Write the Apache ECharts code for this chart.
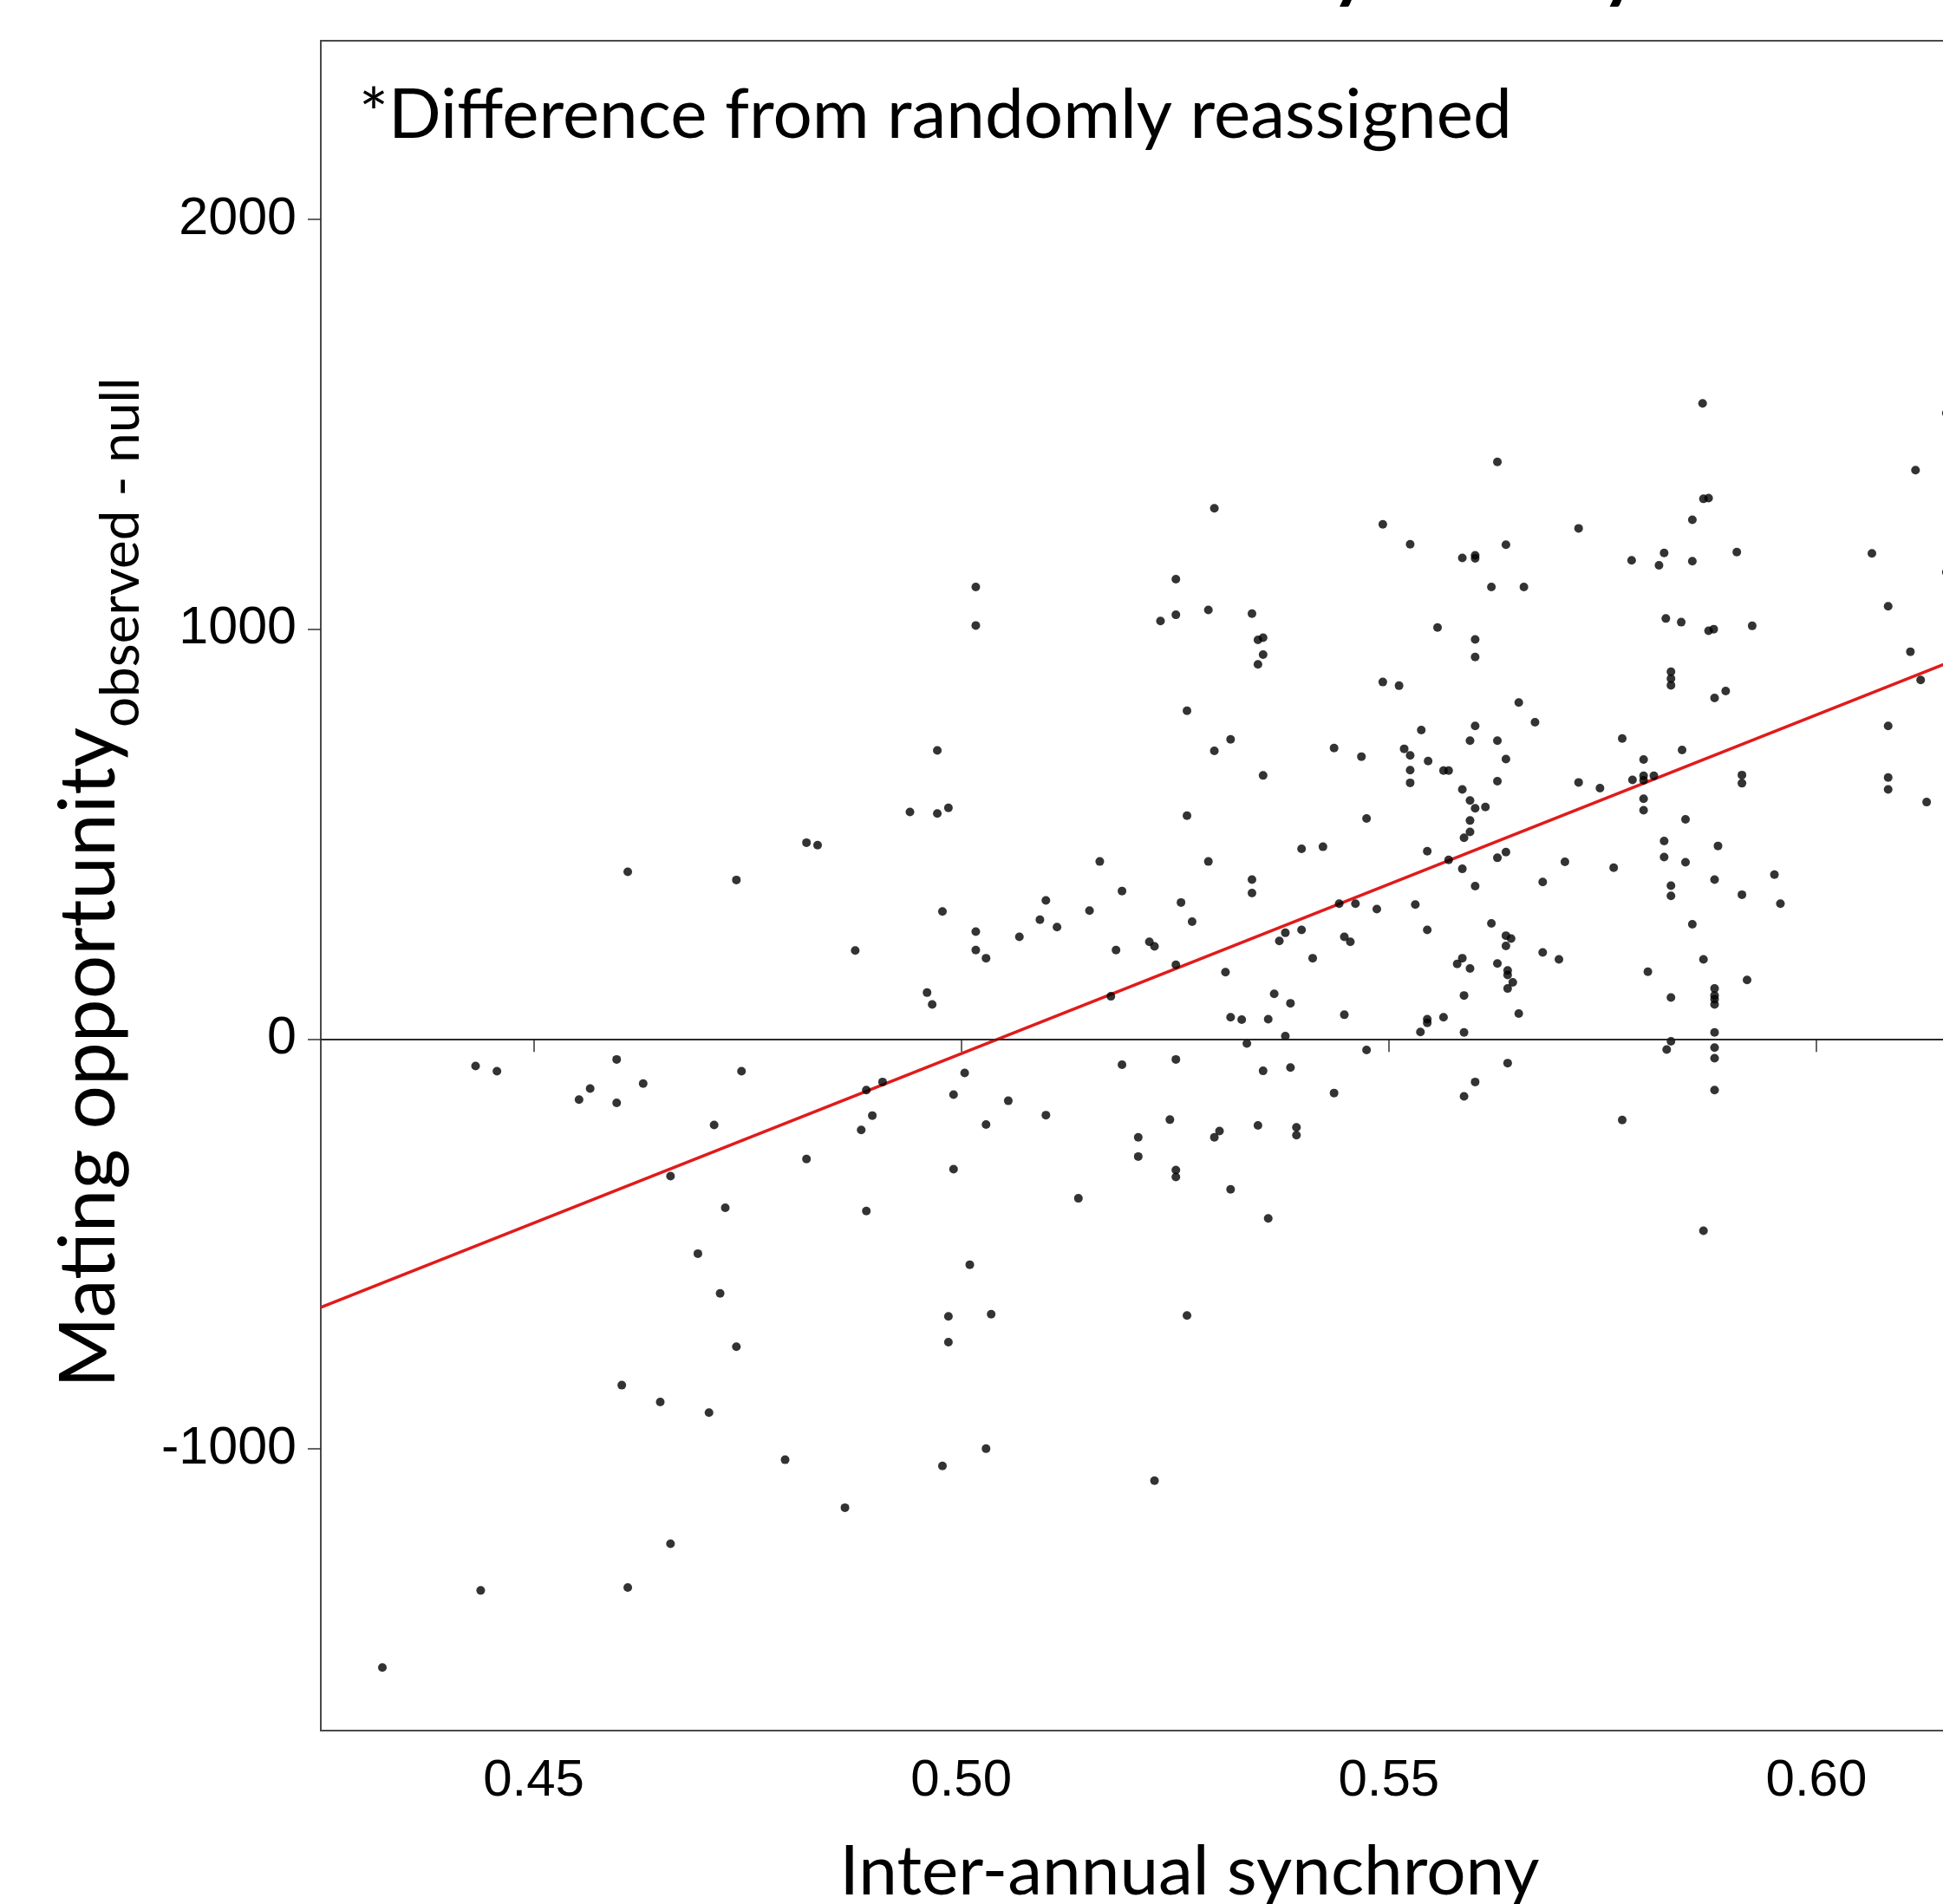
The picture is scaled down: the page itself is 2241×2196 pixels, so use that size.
<!DOCTYPE html>
<html>
<head>
<meta charset="utf-8">
<script src="https://cdn.jsdelivr.net/npm/echarts@6/dist/echarts.min.js"></script>
<style>
  html, body { margin: 0; padding: 0; background: #fff; }
  #chart { width: 2241px; height: 2196px; }
</style>
</head>
<body>
<div id="chart"></div>
<script>
// synchrony (x) and mating opportunity observed - null (y)
const synchrony = [
  0.4610, 0.4737, 0.4819, 0.4832, 0.4876,
  0.4432, 0.4457, 0.4597, 0.4553, 0.4566, 0.4597, 0.4628, 0.4743, 0.4711, 0.4660,
  0.4724, 0.4692, 0.4718, 0.4737, 0.4603, 0.4648, 0.4705, 0.4794, 0.4864, 0.4660,
  0.4610, 0.4438, 0.4323, 0.4889, 0.4896, 0.4883, 0.4819, 0.4889,
  0.4908, 0.5004, 0.4991, 0.5055, 0.5099, 0.5029, 0.4991, 0.5137, 0.5010, 0.4985,
  0.5035, 0.4985, 0.5029, 0.4978, 0.5226, 0.5188, 0.5251, 0.5244, 0.5207, 0.5207,
  0.5251, 0.5251, 0.5264, 0.5315, 0.5328, 0.5359, 0.5385, 0.5379, 0.5334, 0.5353,
  0.5385, 0.5296, 0.5302, 0.5347, 0.5392, 0.5392, 0.5315, 0.5359, 0.5436, 0.5448,
  0.5474, 0.5537,
  0.5545, 0.5545, 0.5564, 0.5588, 0.5652, 0.5639, 0.5601, 0.5588, 0.5773, 0.5830,
  0.5825, 0.5881, 0.5881, 0.5881, 0.5881, 0.5868,
  0.4940, 0.4972, 0.4985, 0.4972, 0.5017, 0.5017, 0.4978, 0.4960, 0.4966, 0.5017,
  0.5017, 0.5029, 0.5068, 0.5092, 0.5099, 0.5112, 0.5150, 0.5162, 0.5188, 0.5181,
  0.5175, 0.5220, 0.5226, 0.5251, 0.5257, 0.5270, 0.5289, 0.5264, 0.5264, 0.5296,
  0.5315, 0.5353, 0.5233, 0.5251, 0.5251, 0.5289, 0.5296, 0.5340, 0.5347, 0.5353,
  0.5353, 0.5347, 0.5309, 0.5366, 0.5340, 0.5340, 0.5372, 0.5379, 0.5398, 0.5411,
  0.5398, 0.5423, 0.5436, 0.5468, 0.5474, 0.5493, 0.5525, 0.5493, 0.5512, 0.5518,
  0.5525, 0.5525, 0.5525, 0.5442, 0.5461, 0.5486, 0.5531, 0.5448, 0.5455,
  0.5867, 0.5627, 0.6116, 0.5868, 0.5874, 0.5855, 0.5722, 0.5637, 0.5586, 0.5601,
  0.5601, 0.5784, 0.5816, 0.5822, 0.5855, 0.5907, 0.6065, 0.5620, 0.5658, 0.5557,
  0.5601, 0.5601, 0.5824, 0.5842, 0.5874, 0.5880, 0.5925, 0.6084, 0.5830, 0.5830,
  0.5830, 0.5881, 0.5894, 0.6110, 0.6122, 0.5652, 0.5671, 0.5538, 0.5601, 0.5595,
  0.5627, 0.5546, 0.5564, 0.5570, 0.5637, 0.5627, 0.5586, 0.5595, 0.5601, 0.5613,
  0.5595, 0.5595, 0.5588, 0.5773, 0.5722, 0.5747, 0.5785, 0.5798, 0.5798, 0.5798,
  0.5810, 0.5798, 0.5798, 0.5843, 0.5913, 0.5913, 0.6084, 0.6084, 0.6084, 0.6129,
  0.5847, 0.5822, 0.5822, 0.5885, 0.5847, 0.5881, 0.5951, 0.5958, 0.5913, 0.5830,
  0.5830, 0.5855, 0.5868, 0.5803, 0.5919, 0.5830, 0.5881, 0.5881, 0.5881, 0.5881,
  0.5588, 0.5545, 0.5570, 0.5586, 0.5601, 0.5627, 0.5637, 0.5680, 0.5706, 0.5763,
  0.5545, 0.5620, 0.5637, 0.5643, 0.5637, 0.5586, 0.5580, 0.5595, 0.5627, 0.5639,
  0.5639, 0.5645, 0.5639, 0.5680, 0.5699, 0.6152, 0.6152
];
const matingDiff = [
  408, 388, 479, 473, 216,
  -66, -79, -50, -148, -121, -156, -109, -79, -210, -335,
  -412, -524, -621, -751, -845, -886, -912, -1027, -1144, -1232,
  -1339, -1346, -1534, -125, -187, -222, -293, -420,
  -105, -83, -136, -151, -186, -209, -318, -389, -551, -677,
  -672, -740, -1000, -1042, -1078, -63, -50, -197, -240, -287,
  -320, -337, -675, 53, 47, 48, 87, 7, -11, -78,
  -70, -240, -225, -211, -216, -235, -367, -438, -132, 59,
  -27, 17,
  48, 39, 53, 16, 62, -59, -105, -140, -198, -6,
  -26, 16, -21, -47, -125, -468,
  554, 550, 564, 704, 1103, 1009, 311, 113, 84, 262,
  217, 197, 249, 291, 338, 273, 313, 433, 361, 217,
  104, 237, 226, 181, 333, 286, 433, 545, 801, 703,
  731, 643, 1020, 1035, 1122, 1047, 1295, 1038, 974, 979,
  938, 914, 163, 110, 389, 356, 239, 259, 266, 197,
  464, 469, 710, 689, 538, 1256, 1207, 871, 862, 708,
  692, 656, 625, 330, 330, 317, 328, 249, 237,
  1551, 1408, 1388, 1318, 1320, 1267, 1246, 1206, 1174, 1180,
  1173, 1168, 1156, 1186, 1166, 1188, 1185, 1103, 1103, 1004,
  975, 932, 1026, 1017, 996, 1000, 1008, 1056, 896, 879,
  863, 832, 849, 945, 876, 821, 773, 754, 764, 728,
  728, 678, 655, 655, 683, 629, 609, 582, 563, 566,
  533, 505, 491, 733, 626, 612, 632, 682, 642, 631,
  642, 586, 558, 705, 644, 624, 764, 638, 609, 578,
  536, 483, 444, 471, 431, 389, 401, 330, 352, 374,
  349, 280, 194, 164, 144, 101, 123, 106, 97, 84,
  106, 458, 437, 415, 373, 442, 456, 383, 432, 418,
  266, 282, 252, 245, 227, 197, 183, 172, 184, 167,
  156, 138, 123, 211, 194, 1527, 1139
];
// fitted regression line, end points read at the plot edges
const fitX = [0.4251, 0.6283];
const fitY = [-655, 1025];

const xTicks = [0.45, 0.50, 0.55, 0.60];
const yTicks = [-1000, 0, 1000, 2000];

const xRange = [0.4251, 0.6283];
const yRange = [-1688, 2436];

const frameColor = '#4a4a4a';
const tickFont = 'Liberation Sans';
const textFont = 'Lato';

// y title is drawn as two rotated texts: main part and the subscript
const yTitleMain = 'Mating opportunity';
const yTitleSub = 'observed - null';
const mainFont = '89px Lato';
const subFont = '62px Lato';

function textWidth(str, font) {
  const ctx = document.createElement('canvas').getContext('2d');
  ctx.font = font;
  return ctx.measureText(str).width;
}

const chart = echarts.init(document.getElementById('chart'), null, {renderer: 'canvas'});

const points = synchrony.map((x, i) => [x, matingDiff[i]]);
const fitLine = fitX.map((x, i) => [x, fitY[i]]);

const yTitleStart = 1601;
const subStart = yTitleStart - textWidth(yTitleMain, mainFont);

chart.setOption({
  backgroundColor: '#ffffff',
  animation: false,
  grid: {
    left: 370,
    top: 47,
    right: -133,
    bottom: 200,
    outerBoundsMode: 'none',
    show: true,
    borderColor: frameColor,
    borderWidth: 2,
  },
  xAxis: {
    type: 'value',
    min: xRange[0],
    max: xRange[1],
    axisLine: { show: true, lineStyle: { color: frameColor, width: 2 } },
    axisTick: { show: true, customValues: xTicks, length: 15, lineStyle: { color: '#333', width: 1.5 } },
    axisLabel: {
      customValues: xTicks,
      formatter: v => v.toFixed(2),
      fontSize: 60,
      fontFamily: tickFont,
      color: '#000',
      margin: 28,
    },
    splitLine: { show: false },
    name: 'Inter-annual synchrony',
    nameLocation: 'middle',
    nameGap: 123,
    nameTextStyle: { fontSize: 80, fontFamily: textFont, color: '#000' },
  },
  yAxis: {
    type: 'value',
    min: yRange[0],
    max: yRange[1],
    axisLine: { show: true, lineStyle: { color: frameColor, width: 2 } },
    axisTick: { show: true, customValues: yTicks, length: 15, lineStyle: { color: '#333', width: 1.5 } },
    axisLabel: {
      customValues: yTicks,
      formatter: v => String(v),
      fontSize: 61,
      fontFamily: tickFont,
      color: '#000',
      margin: 28,
    },
    splitLine: { show: false },
  },
  graphic: [
    {
      type: 'text',
      left: 414,
      top: 93,
      style: { text: '*Difference from randomly reassigned', font: '80px Lato', fill: '#000' },
    },
    {
      type: 'text',
      x: 1892,
      y: 8,
      style: {
        text: 'Inter-annual synchrony',
        font: 'bold 86px Lato',
        fill: '#000',
        align: 'right',
        verticalAlign: 'bottom',
      },
    },
    {
      type: 'text',
      x: 103,
      y: yTitleStart,
      rotation: Math.PI / 2,
      style: { text: yTitleMain, font: mainFont, fill: '#000', align: 'left', verticalAlign: 'middle' },
    },
    {
      type: 'text',
      x: 140,
      y: subStart,
      rotation: Math.PI / 2,
      style: { text: yTitleSub, font: subFont, fill: '#000', align: 'left', verticalAlign: 'middle' },
    },
  ],
  series: [
    {
      type: 'line',
      data: fitLine,
      symbol: 'none',
      lineStyle: { color: '#e01b1b', width: 3.5 },
      z: 2,
      silent: true,
    },
    {
      type: 'scatter',
      data: points,
      symbol: 'circle',
      symbolSize: 10,
      itemStyle: { color: '#000' },
      z: 3,
      markLine: {
        silent: true,
        symbol: ['none', 'none'],
        label: { show: false },
        lineStyle: { color: '#222', width: 1.5, type: 'solid' },
        data: [{ yAxis: 0 }],
      },
    },
  ],
});
</script>
</body>
</html>
